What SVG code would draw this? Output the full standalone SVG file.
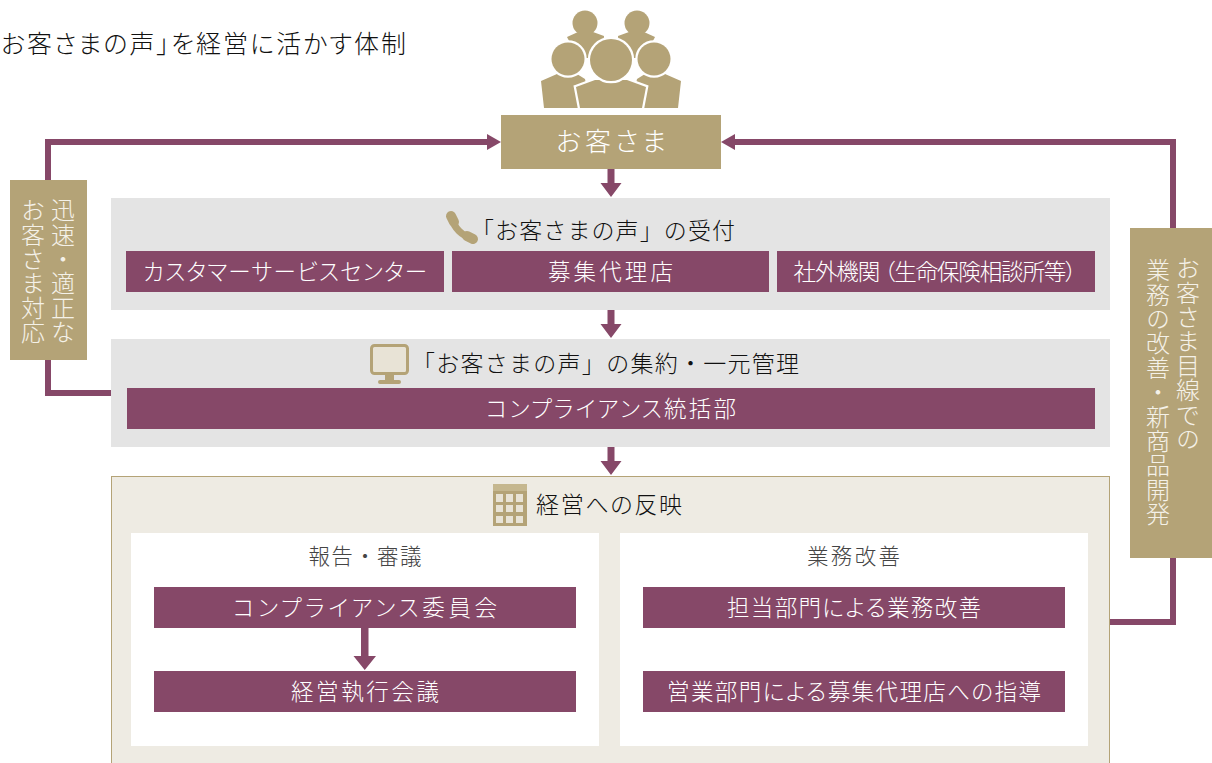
<svg xmlns="http://www.w3.org/2000/svg" width="1212" height="763" viewBox="0 0 1212 763">
<defs>
<style>
text{font-family:"Noto Sans CJK JP","Noto Sans CJK SC",sans-serif;font-weight:300;fill:#111;font-size:23px;font-feature-settings:"palt"}
.w{fill:#fff;text-anchor:middle;font-size:22.500px}
.c{text-anchor:middle;font-size:21.500px;fill:#444;font-feature-settings:normal}
.n{font-feature-settings:normal}
.v{fill:#f4f1e8;writing-mode:vertical-rl;font-size:24px;letter-spacing:.4px;font-feature-settings:normal}
.p{fill:#864868}.g{fill:#b4a377}.y{fill:#e4e4e4}
.l{fill:none;stroke:#864868;stroke-width:6}
.o{stroke:#fff;stroke-width:4.500;paint-order:stroke}
</style>
</defs>
<rect width="1212" height="763" fill="#fff"/>
<text x="1" y="53" style="font-size:25px" textLength="405">お客さまの声」を経営に活かす体制</text>
<g id="people" class="g">
<circle cx="585" cy="23" r="12.500"/><path d="M567 37l11-5h15l11 4-2 22h-24z"/>
<circle cx="637" cy="23" r="12.500"/><path d="M655 37l-11-5h-15l-11 4 2 22h24z"/>
<path class="o" d="M541 81l16-7h20l8 5 6 29h-47zM681 81l-16-7h-20l-8 5-6 29h47z"/>
<circle class="o" cx="568" cy="59" r="16.500"/><circle class="o" cx="654" cy="59" r="16.500"/>
<path class="o" d="M576 87l19-7h32l19 7-4 21h-62z"/>
<circle class="o" cx="611" cy="60" r="21"/>
<rect x="530" y="108" width="160" height="6" fill="#fff"/>
</g>
<g id="customer"><rect class="g" x="501" y="115" width="220" height="54"/><text class="w" x="611" y="151" style="font-size:26px" textLength="110">お客さま</text></g>
<g id="reception"><rect class="y" x="111" y="198" width="999" height="112"/>
<path d="M452 218C454 228 462 236 472 238" fill="none" stroke="#b4a377" stroke-width="7"/><path d="M451 216l3 6M467 236l6 3" fill="none" stroke="#b4a377" stroke-width="10" stroke-linecap="round"/>
<text class="n" x="471" y="239" textLength="264">「お客さまの声」の受付</text>
<rect class="p" x="126" y="251" width="318" height="41"/><text class="w" x="285" y="280" textLength="284">カスタマーサービスセンター</text>
<rect class="p" x="452" y="251" width="317" height="41"/><text class="w" x="610.500" y="280" textLength="125">募集代理店</text>
<rect class="p" x="777" y="251" width="318" height="41"/><text class="w" x="935" y="280" textLength="283">社外機関<tspan dx="5">（</tspan>生命保険相談所等）</text></g>
<g id="collection"><rect class="y" x="111" y="339" width="999" height="108"/>
<rect x="371.500" y="345.500" width="36" height="28" rx="3" fill="#e8e3d6" stroke="#b4a377" stroke-width="3"/><path class="g" d="M385 375h9v5h5a2 2 0 0 1 0 4h-19a2 2 0 0 1 0-4h5z"/>
<text class="n" x="412" y="372" textLength="387">「お客さまの声」の集約・一元管理</text>
<rect class="p" x="127" y="388" width="968" height="41"/><text class="w" x="611" y="417" textLength="250">コンプライアンス統括部</text></g>
<g id="management"><rect x="111.500" y="476.500" width="998" height="290" fill="#eeebe3" stroke="#b4a377"/>
<rect class="g" x="493" y="484" width="34" height="42"/><rect x="493" y="484" width="34" height="7" fill="#c5b78f"/>
<g fill="#e8e3d6"><rect x="496" y="494" width="7" height="8"/><rect x="506" y="494" width="7" height="8"/><rect x="516" y="494" width="7" height="8"/><rect x="496" y="505" width="7" height="7"/><rect x="506" y="505" width="7" height="7"/><rect x="516" y="505" width="7" height="7"/><rect x="496" y="516" width="7" height="7"/><rect x="506" y="516" width="7" height="7"/><rect x="516" y="516" width="7" height="7"/></g>
<text x="536" y="513" textLength="146">経営への反映</text></g>
<g id="report"><rect x="131" y="533" width="468" height="213" fill="#fff"/><text class="c" x="365" y="564" textLength="113">報告・審議</text>
<rect class="p" x="154" y="587" width="422" height="41"/><text class="w" x="365" y="616" textLength="264">コンプライアンス委員会</text>
<rect class="p" x="154" y="671" width="422" height="41"/><text class="w" x="365" y="700" textLength="148">経営執行会議</text></g>
<g id="improve"><rect x="620" y="533" width="468" height="213" fill="#fff"/><text class="c" x="853.500" y="564" textLength="93">業務改善</text>
<rect class="p" x="643" y="587" width="422" height="41"/><text class="w" x="854" y="616" textLength="254">担当部門による業務改善</text>
<rect class="p" x="643" y="671" width="422" height="41"/><text class="w" x="854" y="700" textLength="374">営業部門による募集代理店への指導</text></g>
<g id="connectors">
<path class="l" d="M111 393H48V142H487"/>
<path class="l" d="M1110 622H1173V142H735"/>
<path class="p" d="M501 142l-14-8v16zM721 142l14-8v16z"/>
<path class="p" d="M607.500 169h7v14h7l-10.500 14-10.500-14h7zM607.500 310h7v14h7l-10.500 14-10.500-14h7zM607.500 447h7v14h7l-10.500 14-10.500-14h7zM361 628h7.500v28h7.500l-11.250 14-11.250-14h7.500z"/>
</g>
<g id="left-label"><rect class="g" x="10" y="180" width="77" height="180"/>
<text class="v" x="63" y="198">迅速・適正な</text><text class="v" x="33" y="198">お客さま対応</text></g>
<g id="right-label"><rect class="g" x="1130" y="228" width="82" height="330"/>
<text class="v" x="1188" y="256">お客さま目線での</text><text class="v" x="1158" y="258">業務の改善・新商品開発</text></g>
</svg>
